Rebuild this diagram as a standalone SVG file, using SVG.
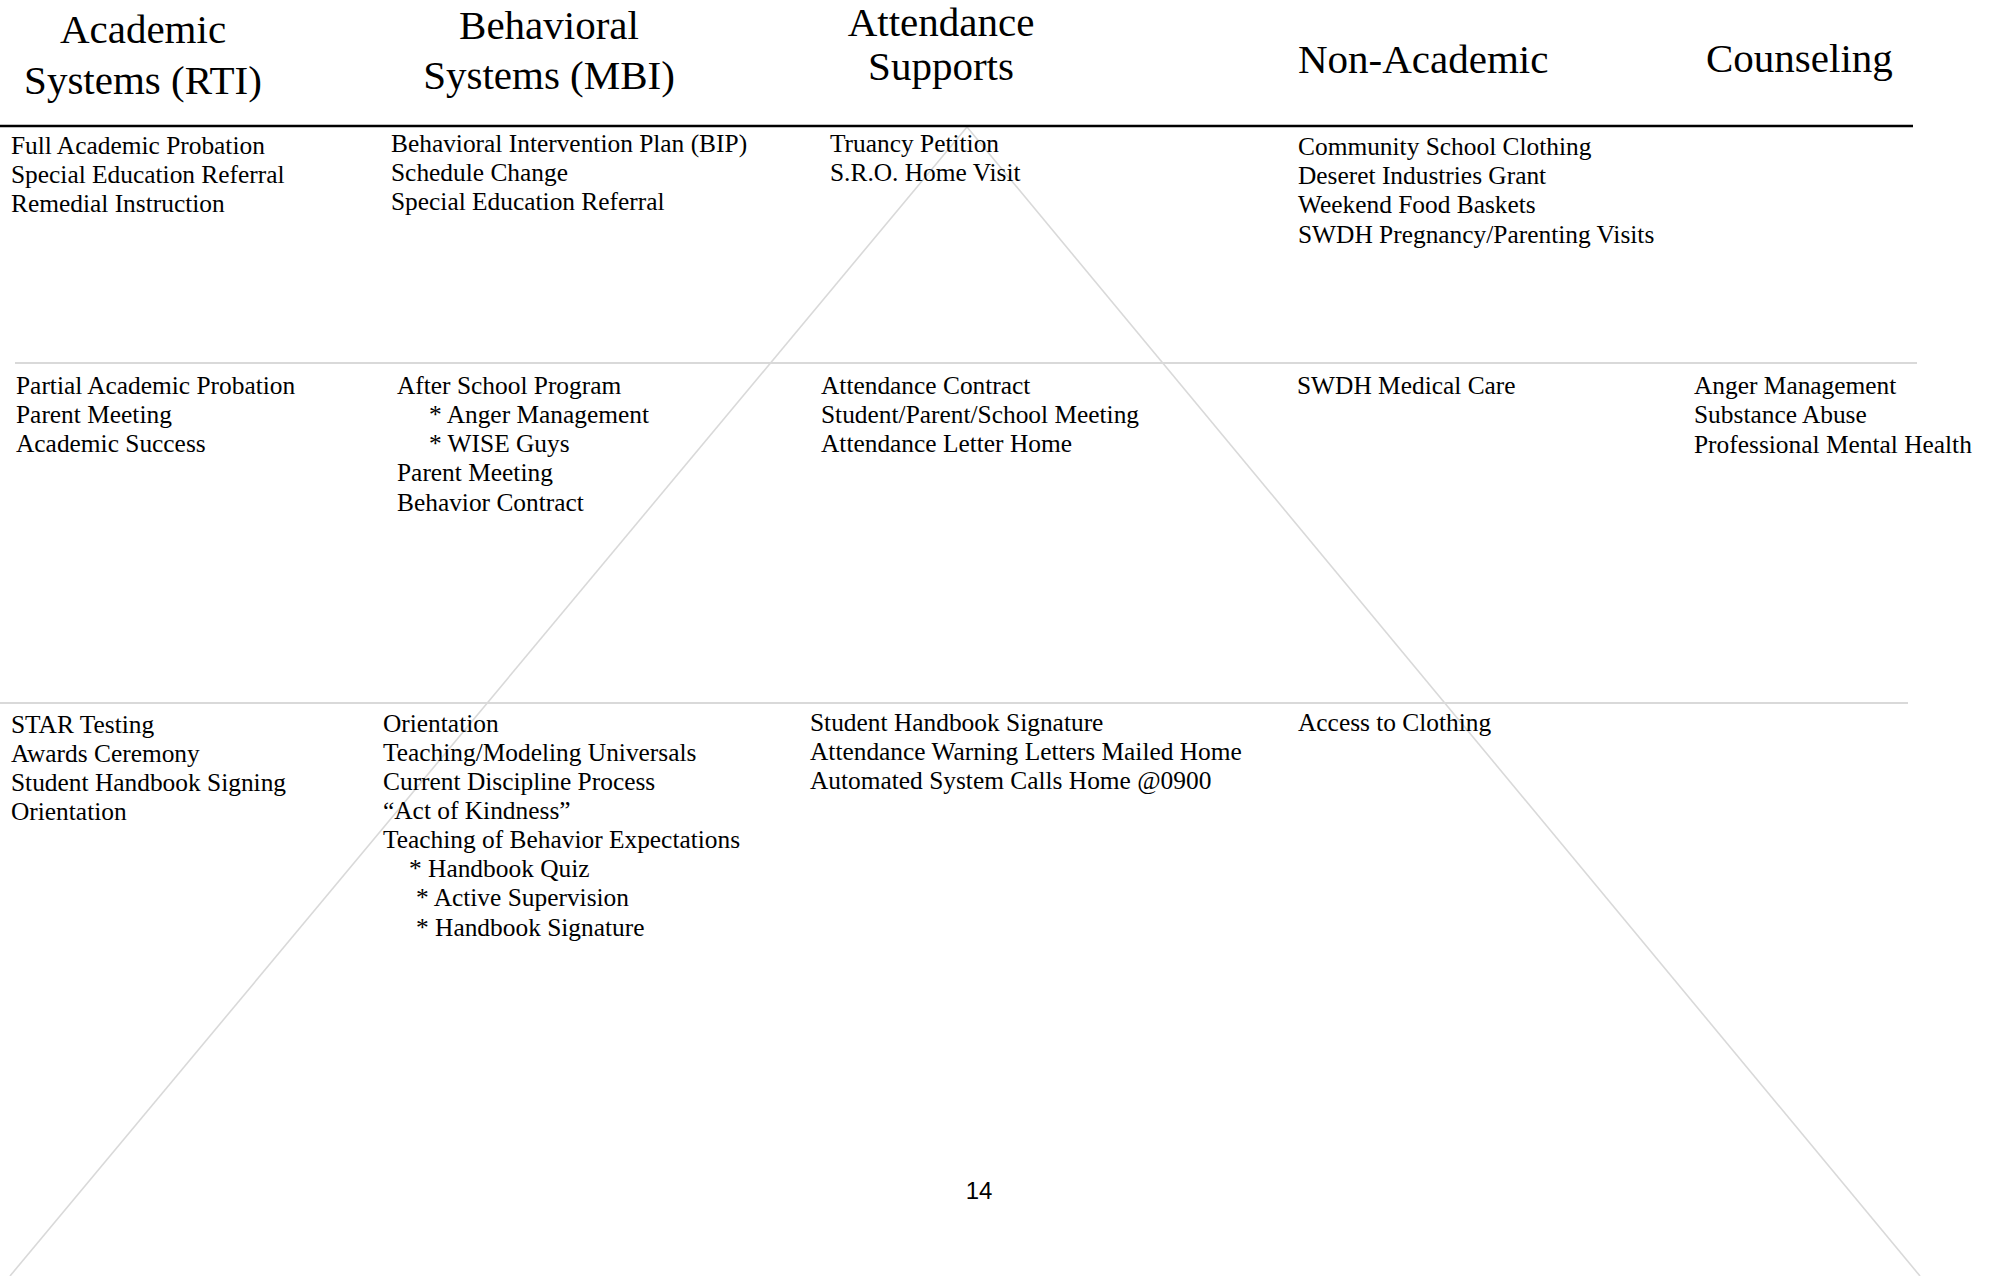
<svg xmlns="http://www.w3.org/2000/svg" width="1990" height="1276" viewBox="0 0 1990 1276">
<style>
.h{font-family:"Liberation Serif","Times New Roman",serif;font-size:41px;fill:#000}
.t{font-family:"Liberation Serif","Times New Roman",serif;font-size:25.4px;fill:#000}
.pg{font-family:"Liberation Sans",Arial,sans-serif;font-size:24px;fill:#000}
.sep{stroke:#d9d9d9;stroke-width:2;fill:none}
.tri{stroke:#d9d9d9;stroke-width:1.6;fill:none}
</style>
<rect width="1990" height="1276" fill="#fff"/>
<g id="connectors">
<line class="tri" x1="967" y1="127" x2="10" y2="1276"/>
<line class="tri" x1="967" y1="127" x2="1920" y2="1276"/>
<line class="sep" x1="15" y1="363" x2="1917" y2="363"/>
<line class="sep" x1="0" y1="703" x2="1908" y2="703"/>
<line x1="0" y1="126" x2="1913" y2="126" stroke="#000" stroke-width="2.5"/>
</g>
<g id="headers">
<text class="h" text-anchor="middle"><tspan x="143" y="43">Academic</tspan><tspan x="143" y="94">Systems (RTI)</tspan></text>
<text class="h" text-anchor="middle"><tspan x="549" y="39">Behavioral</tspan><tspan x="549" y="89">Systems (MBI)</tspan></text>
<text class="h" text-anchor="middle"><tspan x="941" y="36">Attendance</tspan><tspan x="941" y="80">Supports</tspan></text>
<text class="h" x="1298" y="73">Non-Academic</text>
<text class="h" x="1706" y="72">Counseling</text>
</g>
<g id="tier3-academic"><text class="t"><tspan x="11" y="154">Full Academic Probation</tspan><tspan x="11" y="183">Special Education Referral</tspan><tspan x="11" y="212">Remedial Instruction</tspan></text></g>
<g id="tier3-behavioral"><text class="t"><tspan x="391" y="152">Behavioral Intervention Plan (BIP)</tspan><tspan x="391" y="181">Schedule Change</tspan><tspan x="391" y="210">Special Education Referral</tspan></text></g>
<g id="tier3-attendance"><text class="t"><tspan x="830" y="152">Truancy Petition</tspan><tspan x="830" y="181">S.R.O. Home Visit</tspan></text></g>
<g id="tier3-nonacademic"><text class="t"><tspan x="1298" y="155">Community School Clothing</tspan><tspan x="1298" y="184">Deseret Industries Grant</tspan><tspan x="1298" y="213">Weekend Food Baskets</tspan><tspan x="1298" y="243">SWDH Pregnancy/Parenting Visits</tspan></text></g>
<g id="tier2-academic"><text class="t"><tspan x="16" y="394">Partial Academic Probation</tspan><tspan x="16" y="423">Parent Meeting</tspan><tspan x="16" y="452">Academic Success</tspan></text></g>
<g id="tier2-behavioral"><text class="t"><tspan x="397" y="394">After School Program</tspan><tspan x="429" y="423">* Anger Management</tspan><tspan x="429" y="452">* WISE Guys</tspan><tspan x="397" y="481">Parent Meeting</tspan><tspan x="397" y="511">Behavior Contract</tspan></text></g>
<g id="tier2-attendance"><text class="t"><tspan x="821" y="394">Attendance Contract</tspan><tspan x="821" y="423">Student/Parent/School Meeting</tspan><tspan x="821" y="452">Attendance Letter Home</tspan></text></g>
<g id="tier2-nonacademic"><text class="t" x="1297" y="394">SWDH Medical Care</text></g>
<g id="tier2-counseling"><text class="t"><tspan x="1694" y="394">Anger Management</tspan><tspan x="1694" y="423">Substance Abuse</tspan><tspan x="1694" y="453">Professional Mental Health</tspan></text></g>
<g id="tier1-academic"><text class="t"><tspan x="11" y="733">STAR Testing</tspan><tspan x="11" y="762">Awards Ceremony</tspan><tspan x="11" y="791">Student Handbook Signing</tspan><tspan x="11" y="820">Orientation</tspan></text></g>
<g id="tier1-behavioral"><text class="t"><tspan x="383" y="732">Orientation</tspan><tspan x="383" y="761">Teaching/Modeling Universals</tspan><tspan x="383" y="790">Current Discipline Process</tspan><tspan x="383" y="819">“Act of Kindness”</tspan><tspan x="383" y="848">Teaching of Behavior Expectations</tspan><tspan x="409" y="877">* Handbook Quiz</tspan><tspan x="416" y="906">* Active Supervision</tspan><tspan x="416" y="936">* Handbook Signature</tspan></text></g>
<g id="tier1-attendance"><text class="t"><tspan x="810" y="731">Student Handbook Signature</tspan><tspan x="810" y="760">Attendance Warning Letters Mailed Home</tspan><tspan x="810" y="789">Automated System Calls Home @0900</tspan></text></g>
<g id="tier1-nonacademic"><text class="t" x="1298" y="731">Access to Clothing</text></g>
<text class="pg" x="979" y="1199" text-anchor="middle">14</text>
</svg>
